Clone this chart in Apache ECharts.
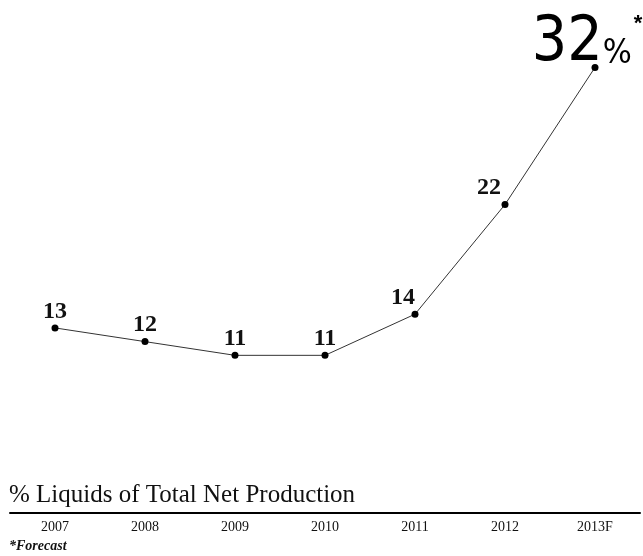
<!DOCTYPE html>
<html>
<head>
<meta charset="utf-8">
<script src="https://cdn.jsdelivr.net/npm/echarts@6/dist/echarts.min.js"></script>
<style>
  html, body { margin: 0; padding: 0; background: #fff; }
  #chart { width: 643px; height: 556px; }
</style>
</head>
<body>
<div id="chart"></div>
<script>
  var years = ['2007', '2008', '2009', '2010', '2011', '2012', '2013F'];
  var liquids = [13, 12, 11, 11, 14, 22, 32];

  // label nudges per point, in px
  var labelShift = [[0, 2], [0, 2], [0, 2], [0, 2], [-12, 2], [-16, 2], [-8, 14]];

  var chart = echarts.init(document.getElementById('chart'));

  var seriesData = liquids.map(function (v, i) {
    var item = { value: v, label: { offset: labelShift[i] } };
    if (i === liquids.length - 1) {
      item.label.formatter = '{big|' + v + '}{pct|%}{star|*}';
    }
    return item;
  });

  var narrow = '"DejaVu Sans Condensed", "Roboto Condensed", Roboto, sans-serif';

  chart.setOption({
    animation: false,
    title: [{
      text: '% Liquids of Total Net Production',
      left: 9,
      top: 483,
      padding: 0,
      textStyle: { fontFamily: 'Liberation Serif', fontWeight: 'normal', fontSize: 25, color: '#111' }
    }, {
      text: '*Forecast',
      left: 9,
      top: 539,
      padding: 0,
      textStyle: { fontFamily: 'Liberation Serif', fontStyle: 'italic', fontWeight: 'bold', fontSize: 14, color: '#111' }
    }],
    grid: { left: 10, right: 3, top: 40, bottom: 43 },
    xAxis: {
      type: 'category',
      data: years,
      boundaryGap: true,
      axisLine: { onZero: false, lineStyle: { color: '#000', width: 2 } },
      axisTick: { show: false },
      axisLabel: { color: '#111', fontFamily: 'Liberation Serif', fontSize: 14, margin: 7 }
    },
    yAxis: {
      type: 'value',
      min: -0.5,
      max: 34,
      show: false,
      splitLine: { show: false }
    },
    series: [{
      type: 'line',
      data: seriesData,
      symbol: 'circle',
      symbolSize: 7,
      itemStyle: { color: '#000' },
      lineStyle: { color: '#333', width: 1 },
      label: {
        show: true,
        position: 'top',
        distance: 3,
        color: '#111',
        fontFamily: 'Liberation Serif',
        fontWeight: 'bold',
        fontSize: 24,
        rich: {
          big: { fontFamily: narrow, fontWeight: 'normal', fontSize: 62, color: '#000', verticalAlign: 'bottom' },
          pct: { fontFamily: narrow, fontWeight: 'normal', fontSize: 34, color: '#000', verticalAlign: 'bottom', padding: [0, 0, 4, 0] },
          star: { fontFamily: 'Liberation Sans', fontWeight: 'bold', fontSize: 22, color: '#000', verticalAlign: 'top', padding: [0, 0, 0, 2] }
        }
      }
    }]
  });
</script>
</body>
</html>
